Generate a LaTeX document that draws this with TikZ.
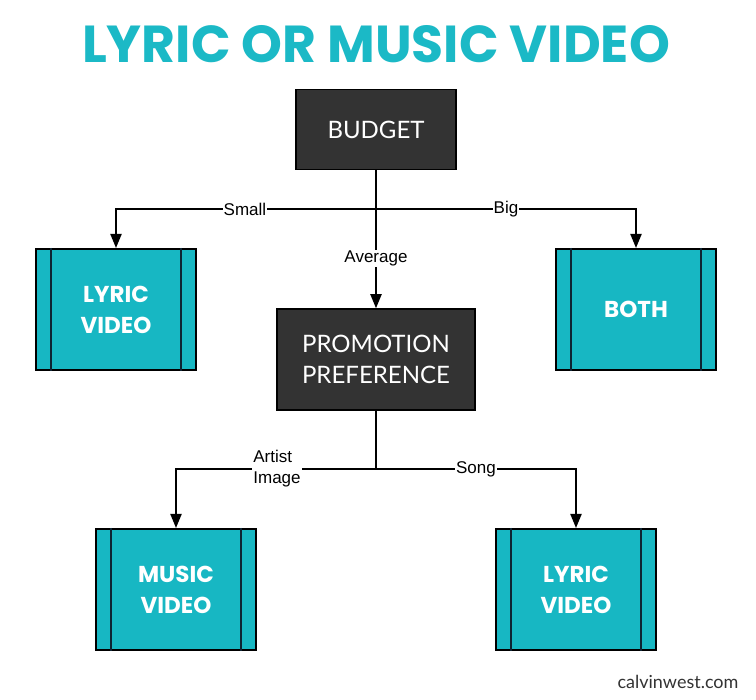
\documentclass[tikz,border=0pt]{standalone}
\usepackage{fontspec}
\setmainfont{Liberation Sans}
\newfontfamily\titlefont{Poppins}
\newfontfamily\boxfont{Lato}
\usetikzlibrary{arrows.meta}
\definecolor{teal1}{HTML}{17B7C3}
\definecolor{tealtitle}{HTML}{1BB9C6}
\definecolor{darkbox}{HTML}{333333}
\definecolor{navy}{HTML}{0E2433}
\begin{document}
\begin{tikzpicture}[x=1pt,y=-1pt,
  darkstyle/.style={draw=black,line width=1.5pt,fill=darkbox,text=white,
    font=\boxfont\fontsize{24}{31}\selectfont,align=center,inner sep=0pt},
  tealstyle/.style={draw=black,line width=2pt,fill=teal1,text=white,
    font=\titlefont\bfseries\fontsize{23}{31}\selectfont,align=center,inner sep=0pt,
    minimum width=160pt,minimum height=121pt},
  conn/.style={line width=2pt,draw=black},
  arr/.style={conn,-{Triangle[width=11pt,length=14pt]}},
  lbl/.style={fill=white,inner sep=1pt,font=\fontsize{17}{21}\selectfont,align=center,text=black}]
\useasboundingbox[fill=white] (0,0) rectangle (756,700);
\node[text=tealtitle,font=\titlefont\bfseries\fontsize{52}{52}\selectfont] (title) at (376,44) {LYRIC OR MUSIC VIDEO};
\node[darkstyle,minimum width=160pt,minimum height=80pt] (budget) at (376,129.5) {BUDGET};
\node[darkstyle,minimum width=198pt,minimum height=101pt] (promo) at (376,359.5) {PROMOTION\\PREFERENCE};
\node[tealstyle] (lyric1) at (116,309.5) {LYRIC\\VIDEO};
\node[tealstyle] (both) at (636,309.5) {BOTH};
\node[tealstyle] (music) at (176,589.5) {MUSIC\\VIDEO};
\node[tealstyle] (lyric2) at (576,589.5) {LYRIC\\VIDEO};
\foreach \n in {lyric1,both,music,lyric2}{
  \draw[navy,line width=2pt] ([xshift=16pt]\n.north west) -- ([xshift=16pt]\n.south west);
  \draw[navy,line width=2pt] ([xshift=-16pt]\n.north east) -- ([xshift=-16pt]\n.south east);
}
\coordinate (j1) at (376,209);
\coordinate (j2) at (376,469);
\draw[conn] (budget.south) -- (j1);
\draw[arr] (j1) -- node[lbl,pos=0.5]{Average} (promo.north);
\draw[arr] (j1) -| node[lbl,pos=0.252]{Small} (lyric1.north);
\draw[arr] (j1) -| node[lbl,pos=0.25]{Big} (both.north);
\draw[conn] (promo.south) -- (j2);
\draw[arr] (j2) -| node[lbl,pos=0.25,align=left,xshift=1pt]{Artist\\Image} (music.north);
\draw[arr] (j2) -| node[lbl,pos=0.25]{Song} (lyric2.north);
\node[text=darkbox,font=\boxfont\fontsize{18}{18}\selectfont] (site) at (678,682) {calvinwest.com};
\end{tikzpicture}
\end{document}
